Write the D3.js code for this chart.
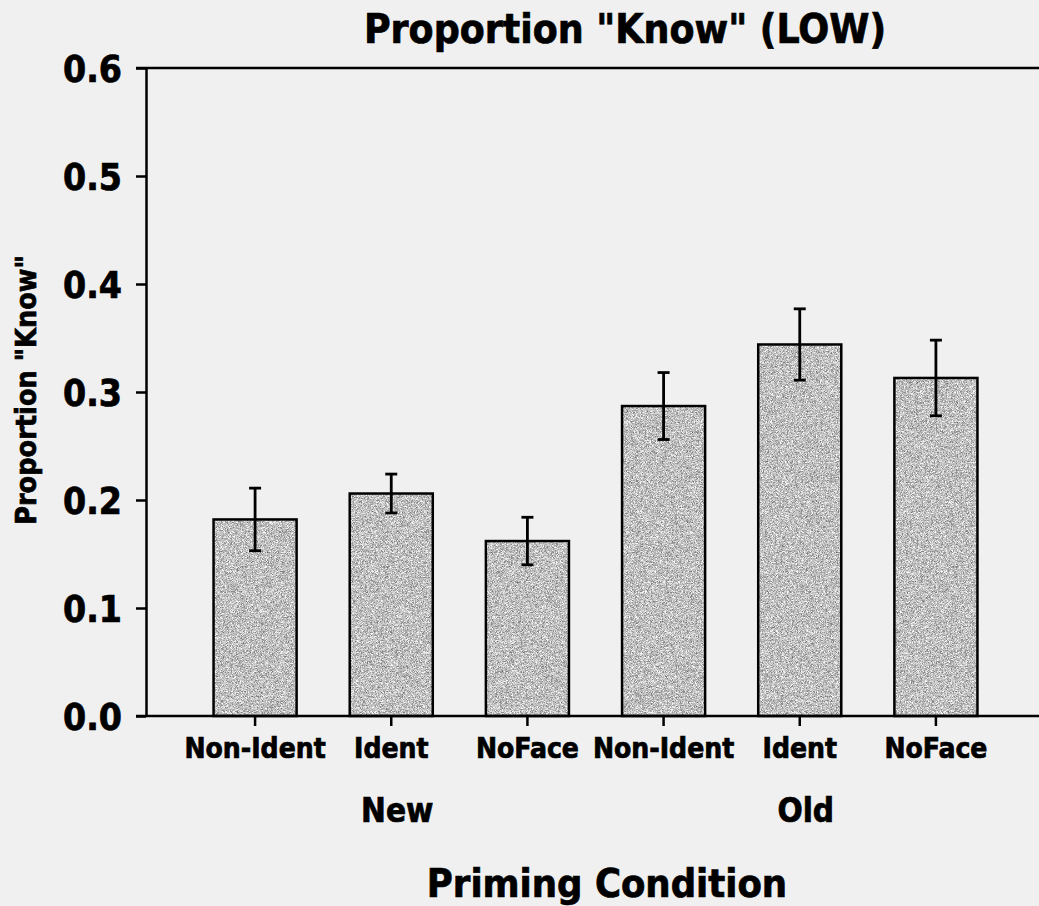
<!DOCTYPE html>
<html lang="en">
<head>
<meta charset="UTF-8">
<title>Proportion "Know" (LOW)</title>
<script src="https://cdn.jsdelivr.net/npm/d3@7"></script>
<style>
  body { margin: 0; background: #f0f0f0; }
  svg { display: block; }
  .lbl { font-family: "DejaVu Sans Condensed", "DejaVu Sans", sans-serif; font-weight: bold;
         fill: #000; stroke: #000; stroke-width: 0.7px; }
</style>
</head>
<body>
<div id="chart"></div>
<script>
// chart data
const groups = ["New", "New", "New", "Old", "Old", "Old"];
const conditions = ["Non-Ident", "Ident", "NoFace", "Non-Ident", "Ident", "NoFace"];
const means = [0.182, 0.206, 0.162, 0.287, 0.344, 0.313];
const errs = [0.029, 0.018, 0.022, 0.031, 0.033, 0.035];
const yTicks = [0, 0.1, 0.2, 0.3, 0.4, 0.5, 0.6];

const width = 1039, height = 906;
const svg = d3.select("#chart").append("svg")
  .attr("width", width).attr("height", height);

svg.append("rect").attr("width", width).attr("height", height).attr("fill", "#f0f0f0");

// speckled grey fill like the scanned bars
const defs = svg.append("defs");
const speckle = defs.append("filter").attr("id", "speckle")
  .attr("x", 0).attr("y", 0).attr("width", 1).attr("height", 1)
  .attr("color-interpolation-filters", "sRGB");
speckle.append("feTurbulence").attr("type", "fractalNoise")
  .attr("baseFrequency", 1.8).attr("numOctaves", 1).attr("seed", 7).attr("result", "noise");
speckle.append("feColorMatrix").attr("type", "matrix")
  .attr("values", "1.1 0 0 0 0.2  1.1 0 0 0 0.2  1.1 0 0 0 0.2  0 0 0 0 1").attr("result", "grey");
speckle.append("feComposite").attr("in", "grey").attr("in2", "SourceGraphic").attr("operator", "in");

const ids = conditions.map((c, i) => groups[i] + "-" + c);

const x = d3.scaleBand()
  .domain(ids)
  .range([187, 1004])
  .paddingInner(0.39)
  .paddingOuter(0.195);

const y = d3.scaleLinear()
  .domain([0, 0.6])
  .range([716, 68]);

const axisX = 146;

// bars
const bars = svg.append("g");
bars.selectAll("rect.fill")
  .data(means).enter().append("rect")
    .attr("class", "fill")
    .attr("x", (d, i) => x(ids[i]))
    .attr("y", d => y(d))
    .attr("width", x.bandwidth())
    .attr("height", d => y(0) - y(d))
    .attr("fill", "#c0c0c0")
    .attr("filter", "url(#speckle)");
bars.selectAll("rect.edge")
  .data(means).enter().append("rect")
    .attr("class", "edge")
    .attr("x", (d, i) => x(ids[i]))
    .attr("y", d => y(d))
    .attr("width", x.bandwidth())
    .attr("height", d => y(0) - y(d))
    .attr("fill", "none")
    .attr("stroke", "#000")
    .attr("stroke-width", 2.5);

// error bars
const eb = svg.append("g").attr("stroke", "#000").attr("stroke-width", 2.8);
means.forEach((m, i) => {
  const cx = x(ids[i]) + x.bandwidth() / 2;
  eb.append("line").attr("x1", cx).attr("x2", cx)
    .attr("y1", y(m + errs[i])).attr("y2", y(m - errs[i]));
  eb.append("line").attr("x1", cx - 6).attr("x2", cx + 6)
    .attr("y1", y(m + errs[i])).attr("y2", y(m + errs[i]));
  eb.append("line").attr("x1", cx - 6).attr("x2", cx + 6)
    .attr("y1", y(m - errs[i])).attr("y2", y(m - errs[i]));
});

// y axis
const yAxisG = svg.append("g")
  .attr("transform", "translate(" + axisX + ",0)")
  .call(d3.axisLeft(y).tickValues(yTicks).tickFormat(d3.format(".1f"))
    .tickSize(10).tickSizeOuter(0).tickPadding(14));
yAxisG.select(".domain").attr("stroke-width", 2.5);
yAxisG.selectAll(".tick line").attr("stroke-width", 2.5);
yAxisG.selectAll(".tick text")
  .attr("class", "lbl").attr("dy", "0.36em")
  .style("font-size", "37px");

// x axis
const xAxisG = svg.append("g")
  .attr("transform", "translate(0," + y(0) + ")")
  .call(d3.axisBottom(x).tickFormat((d, i) => conditions[i])
    .tickSize(10).tickSizeOuter(0).tickPadding(10));
xAxisG.select(".domain").remove();
xAxisG.selectAll(".tick line").attr("stroke-width", 2.5);
xAxisG.selectAll(".tick text")
  .attr("class", "lbl").attr("dy", "0.78em")
  .style("font-size", "28px");

// baseline and top border run across to the right edge
svg.append("line").attr("x1", 136).attr("x2", width)
  .attr("y1", y(0)).attr("y2", y(0))
  .attr("stroke", "#000").attr("stroke-width", 2.5);
svg.append("line").attr("x1", 136).attr("x2", width)
  .attr("y1", y(0.6)).attr("y2", y(0.6))
  .attr("stroke", "#000").attr("stroke-width", 2.5);

// group labels under the middle bar of each group
["New", "Old"].forEach(g => {
  const mid = ids[groups.indexOf(g) + 1];
  svg.append("text").attr("class", "lbl")
    .attr("x", x(mid) + x.bandwidth() / 2 + 6)
    .attr("y", 822)
    .attr("text-anchor", "middle")
    .style("font-size", "33px")
    .text(g);
});

// titles
svg.append("text").attr("class", "lbl")
  .attr("x", 625).attr("y", 43)
  .attr("text-anchor", "middle")
  .style("font-size", "40.5px")
  .text('Proportion "Know" (LOW)');

svg.append("text").attr("class", "lbl")
  .attr("x", 607).attr("y", 897)
  .attr("text-anchor", "middle")
  .style("font-size", "39.5px")
  .text("Priming Condition");

svg.append("text").attr("class", "lbl")
  .attr("transform", "translate(36,390) rotate(-90)")
  .attr("text-anchor", "middle")
  .style("font-size", "28.5px")
  .text('Proportion "Know"');
</script>
</body>
</html>
